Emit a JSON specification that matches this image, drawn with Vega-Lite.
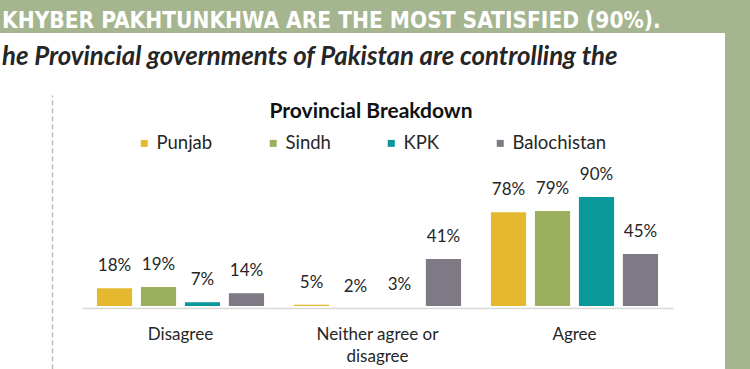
{
  "$schema": "https://vega.github.io/schema/vega-lite/v6.json",
  "autosize": "none",
  "width": 725,
  "height": 336,
  "padding": {"top": 33, "left": 0, "right": 25, "bottom": 0},
  "background": "#A5B590",
  "config": {
    "view": {"fill": "white", "stroke": null},
    "font": "Lato"
  },
  "title": {
    "text": "KHYBER PAKHTUNKHWA ARE THE MOST SATISFIED (90%).",
    "subtitle": "he Provincial governments of Pakistan are controlling the",
    "anchor": "start",
    "frame": "group",
    "orient": "top",
    "font": "Liberation Sans Narrow, DejaVu Sans Condensed, sans-serif",
    "fontSize": 22.5,
    "fontWeight": "bold",
    "color": "white",
    "subtitleFont": "Lato",
    "subtitleFontSize": 25.8,
    "subtitleFontStyle": "italic",
    "subtitleFontWeight": "bold",
    "subtitleColor": "#262626",
    "subtitlePadding": 13,
    "offset": -37,
    "dx": 2
  },
  "data": {
    "values": [
      {"response": "Disagree", "province": "Punjab", "value": 18},
      {"response": "Disagree", "province": "Sindh", "value": 19},
      {"response": "Disagree", "province": "KPK", "value": 7},
      {"response": "Disagree", "province": "Balochistan", "value": 14},
      {"response": "Neither agree or disagree", "province": "Punjab", "value": 5},
      {"response": "Neither agree or disagree", "province": "Sindh", "value": 2},
      {"response": "Neither agree or disagree", "province": "KPK", "value": 3},
      {"response": "Neither agree or disagree", "province": "Balochistan", "value": 41},
      {"response": "Agree", "province": "Punjab", "value": 78},
      {"response": "Agree", "province": "Sindh", "value": 79},
      {"response": "Agree", "province": "KPK", "value": 90},
      {"response": "Agree", "province": "Balochistan", "value": 45}
    ]
  },
  "resolve": {"scale": {"y": "independent"}, "axis": {"y": "independent"}},
  "layer": [
    {
      "mark": {"type": "bar"},
      "encoding": {
        "x": {
          "field": "response", "type": "nominal", "sort": null,
          "scale": {"range": [82, 673], "paddingInner": 0, "paddingOuter": 0},
          "axis": {
            "title": null, "orient": "bottom", "offset": -61, "labelAngle": 0,
            "domain": true, "domainColor": "#D9D9D9", "domainWidth": 1.5,
            "ticks": false, "tickSize": 0, "labelPadding": 18,
            "labelFontSize": 17, "labelColor": "#262626", "labelLineHeight": 22,
            "labelExpr": "datum.value == 'Neither agree or disagree' ? ['Neither agree or', 'disagree'] : datum.value"
          }
        },
        "xOffset": {
          "field": "province", "type": "nominal", "sort": ["Punjab", "Sindh", "KPK", "Balochistan"],
          "scale": {"paddingInner": 0.2, "paddingOuter": 0.34}
        },
        "y": {
          "field": "value", "type": "quantitative",
          "scale": {"domain": [4, 170.5], "range": [273, 62], "clamp": true, "zero": false, "nice": false},
          "axis": null
        },
        "y2": {"datum": 4},
        "color": {
          "field": "province", "type": "nominal", "sort": ["Punjab", "Sindh", "KPK", "Balochistan"],
          "scale": {"domain": ["Punjab", "Sindh", "KPK", "Balochistan"], "range": ["#E5B92F", "#9CAF5D", "#0A999B", "#7E7985"]},
          "legend": {
            "orient": "none", "legendX": 135, "legendY": 68, "direction": "horizontal",
            "title": "Provincial Breakdown", "titleFontSize": 21, "titleFontWeight": "bold", "titleColor": "#111111",
            "titleAnchor": "middle", "titleOrient": "top", "titlePadding": 12, "titleLimit": 500,
            "symbolType": "square", "symbolSize": 49, "symbolStrokeWidth": 0,
            "labelFontSize": 18.5, "labelColor": "#262626", "labelOffset": 3, "columnPadding": 51, "padding": 0
          }
        }
      }
    },
    {
      "transform": [{"calculate": "datum.value + '%'", "as": "label"}],
      "mark": {"type": "text", "baseline": "alphabetic", "dy": -17, "fontSize": 17, "color": "#262626"},
      "encoding": {
        "x": {"field": "response", "type": "nominal", "sort": null,
          "scale": {"range": [82, 673], "paddingInner": 0, "paddingOuter": 0}},
        "xOffset": {
          "field": "province", "type": "nominal", "sort": ["Punjab", "Sindh", "KPK", "Balochistan"],
          "scale": {"paddingInner": 0.2, "paddingOuter": 0.34}
        },
        "y": {
          "field": "value", "type": "quantitative",
          "scale": {"domain": [-45.7, 170.5], "range": [336, 62], "zero": false, "nice": false},
          "axis": {
            "orient": "left", "offset": -52, "title": null, "labels": false, "ticks": false, "grid": false,
            "domain": true, "domainColor": "#B9BFAA", "domainWidth": 1.5, "domainDash": [5, 3]
          }
        },
        "text": {"field": "label", "type": "nominal"}
      }
    }
  ]
}
